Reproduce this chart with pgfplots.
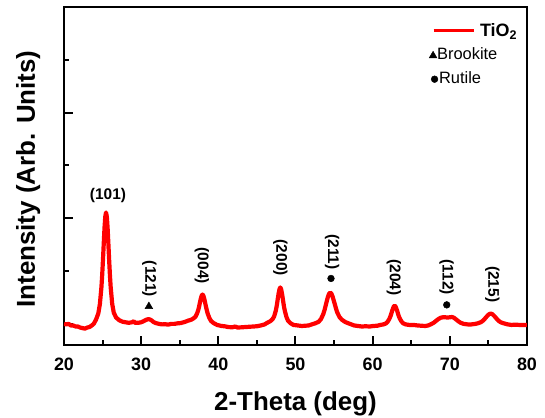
\documentclass[border=0pt]{standalone}
\usepackage{fontspec}
\setmainfont{Liberation Sans}
\usepackage{pgfplots}
\pgfplotsset{compat=1.18}
\pgfplotsset{
  lineimg/.style={legend image code/.code={\draw[##1, line width=3bp] (0bp,2bp) -- (40bp,2bp);}},
  triimg/.style={legend image code/.code={\draw[##1] plot coordinates {(-0.5bp,0bp)};}},
  dotimg/.style={legend image code/.code={\draw[##1] plot coordinates {(1bp,0bp)};}},
}
\begin{document}
\begin{tikzpicture}
\begin{axis}[
  at={(0,0)}, anchor=south west,
  scale only axis, width=463bp, height=338bp,
  xmin=20, xmax=80, ymin=-0.4, ymax=6,
  xtick={20,30,...,80}, minor xtick={25,35,...,75},
  ytick={0,2,4,6}, minor ytick={1,3,5}, yticklabels={},
  xtick pos=bottom, ytick pos=left, tick align=inside,
  major tick length=9.5bp, minor tick length=5.5bp,
  axis line style={line width=2.5bp},
  every tick/.style={black, line width=2bp},
  /pgf/number format/assume math mode=true,
  xticklabel style={font=\fontsize{18}{20}\selectfont\bfseries, anchor=base, yshift=-25bp},
  xlabel={2-Theta (deg)},
  xlabel style={font=\fontsize{26}{30}\selectfont\bfseries, at={(axis description cs:0.5,0)}, anchor=base, yshift=-65.6bp},
  ylabel={Intensity (Arb. Units)},
  ylabel style={font=\fontsize{26}{30}\selectfont\bfseries, at={([xshift=-29bp,yshift=-3bp]axis description cs:0,0.5)}, anchor=base},
  legend style={draw=none, fill=none, inner sep=0pt, at={(axis description cs:0.7883,0.9527)}, anchor=north west,
    row sep=5.5bp, column sep=5bp, nodes={inner sep=0pt, text height=13bp, text depth=5bp}},
  legend cell align=left,
]
\addplot[red, line width=4.2bp, line join=round, lineimg] coordinates {
(20.0,0.00) (20.3,-0.01) (20.6,0.00) (20.9,-0.03) (21.2,-0.03) (21.5,-0.05) (21.8,-0.05) (22.1,-0.07) (22.4,-0.08) (22.7,-0.09) (23.0,-0.07) (23.3,-0.06) (23.6,-0.03) (23.85,0.00)
(24.15,0.08) (24.45,0.20) (24.65,0.375) (24.85,0.694) (24.95,0.929) (25.05,1.21) (25.15,1.52) (25.25,1.82) (25.35,2.03) (25.45,2.11) (25.55,2.03) (25.65,1.82) (25.75,1.52) (25.85,1.21) (25.95,0.929) (26.05,0.694) (26.25,0.375) (26.45,0.213) (26.75,0.12) (27.15,0.07) (27.6,0.04)
(28.0,0.03) (28.4,0.02) (28.8,0.03) (29.05,0.05) (29.2,0.02) (29.6,0.02) (30.0,0.03) (30.3,0.05) (30.5,0.065) (30.7,0.08) (30.95,0.09) (31.2,0.08) (31.4,0.06) (31.6,0.035) (31.9,0.015) (32.3,0.00)
(32.7,-0.01) (33.1,-0.005) (33.5,-0.015) (33.9,0.00) (34.3,0.00) (34.7,0.01) (35.1,0.015) (35.5,0.03) (35.8,0.045) (36.06,0.06) (36.51,0.08) (36.84,0.11) (37.06,0.14) (37.28,0.21) (37.395,0.26) (37.51,0.33) (37.62,0.407) (37.73,0.48) (37.84,0.535) (37.95,0.555) (38.06,0.535) (38.17,0.48) (38.28,0.407) (38.39,0.33) (38.505,0.26) (38.62,0.195) (38.84,0.11) (39.06,0.055) (39.39,0.015) (39.84,-0.02)
(40.4,-0.04) (40.8,-0.045) (41.3,-0.06) (41.8,-0.065) (42.2,-0.05) (42.5,-0.07) (43.0,-0.065) (43.5,-0.06) (44.0,-0.055) (44.5,-0.05) (45.0,-0.045) (45.5,-0.03) (46.0,-0.01)
(46.33,0.02) (46.73,0.05) (47.03,0.09) (47.23,0.14) (47.43,0.24) (47.53,0.31) (47.63,0.40) (47.73,0.50) (47.83,0.59) (47.93,0.66) (48.03,0.69) (48.13,0.66) (48.23,0.59) (48.33,0.50) (48.43,0.40) (48.53,0.31) (48.63,0.24) (48.83,0.13) (49.03,0.06) (49.33,0.015) (49.73,-0.02)
(50.3,-0.03) (50.8,-0.04) (51.3,-0.035) (51.7,-0.03) (52.1,-0.01) (52.55,0.01) (53.0,0.04) (53.3,0.09) (53.6,0.185) (53.75,0.255) (53.9,0.34) (54.05,0.43) (54.2,0.51) (54.35,0.57) (54.5,0.59) (54.65,0.575) (54.8,0.52) (54.95,0.445) (55.1,0.37) (55.25,0.29) (55.4,0.22) (55.7,0.13) (56.0,0.08) (56.45,0.035) (57.05,0.0)
(57.6,-0.03) (58.1,-0.04) (58.6,-0.05) (59.1,-0.045) (59.6,-0.05) (60.1,-0.04) (60.6,-0.035) (61.0,-0.02) (61.4,-0.01) (61.74,0.01) (61.96,0.045) (62.18,0.10) (62.295,0.14) (62.41,0.19) (62.52,0.245) (62.63,0.29) (62.74,0.33) (62.85,0.345) (62.96,0.33) (63.07,0.29) (63.18,0.245) (63.29,0.19) (63.405,0.14) (63.52,0.10) (63.74,0.045) (63.96,0.01) (64.29,-0.01) (64.74,-0.02)
(65.3,-0.02) (65.8,-0.03) (66.3,-0.035) (66.8,-0.04) (67.2,-0.03) (67.5,-0.01) (67.9,0.02) (68.2,0.055) (68.5,0.09) (68.8,0.115) (69.1,0.125) (69.4,0.125) (69.7,0.12) (70.0,0.125) (70.3,0.13) (70.55,0.115) (70.8,0.085) (71.1,0.05) (71.4,0.02) (71.8,0.00) (72.3,-0.01) (72.8,-0.01) (73.3,0.00)
(73.6,0.01) (74.0,0.03) (74.3,0.06) (74.55,0.10) (74.75,0.135) (74.95,0.165) (75.1,0.185) (75.3,0.195) (75.5,0.185) (75.65,0.165) (75.85,0.135) (76.05,0.10) (76.3,0.06) (76.6,0.03) (77.0,0.01) (77.5,-0.01) (78.0,-0.02) (78.5,-0.015) (79.0,-0.02) (79.5,-0.02) (80.0,-0.02)
};
\addlegendentry{\fontsize{18}{20}\selectfont\bfseries TiO\textsubscript{2}}
\addplot[only marks, mark=triangle*, mark size=4.5bp, black, triimg] coordinates {(31.0,0.33)};
\addlegendentry{\fontsize{16.5}{18}\selectfont\hspace{-43bp}Brookite}
\addplot[only marks, mark=*, mark size=3.4bp, black, dotimg] coordinates {(54.6,0.86) (69.6,0.36)};
\addlegendentry{\fontsize{16.5}{18}\selectfont\hspace{-41bp}Rutile}
\node[font=\fontsize{15.5}{18}\selectfont\bfseries] at (axis cs:25.7,2.43) {(101)};
\begin{scope}[every node/.style={rotate=-90, font=\fontsize{15.5}{18}\selectfont\bfseries}]
\node at (axis cs:31.07,0.85) {(121)};
\node at (axis cs:37.87,1.10) {(004)};
\node at (axis cs:48.03,1.25) {(200)};
\node at (axis cs:54.74,1.36) {(211)};
\node at (axis cs:62.74,0.88) {(204)};
\node at (axis cs:69.58,0.88) {(112)};
\node at (axis cs:75.5,0.75) {(215)};
\end{scope}
\end{axis}
\pgfresetboundingbox
\useasboundingbox (-64bp,-73bp) rectangle (481bp,345bp);
\end{tikzpicture}
\end{document}
